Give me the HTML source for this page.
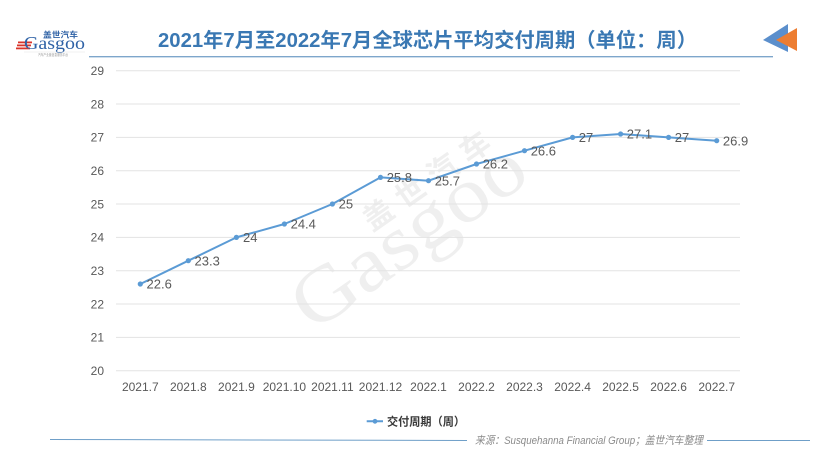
<!DOCTYPE html>
<html>
<head>
<meta charset="utf-8">
<style>
  html, body { margin:0; padding:0; background:#ffffff; }
  body { width:820px; height:461px; overflow:hidden; }
  svg { display:block; }
  .t { font-family: "Liberation Sans", "Noto Sans CJK SC", sans-serif; }
</style>
</head>
<body>
<svg width="820" height="461" viewBox="0 0 820 461" xmlns="http://www.w3.org/2000/svg">
  <rect x="0" y="0" width="820" height="461" fill="#ffffff"/>

  <!-- Logo -->
  <g>
    <text x="43" y="37.5" class="t" font-size="8" font-weight="bold" fill="#2f62a6" textLength="35" lengthAdjust="spacingAndGlyphs">盖世汽车</text>
    <rect x="18" y="41.5" width="14" height="1.8" fill="#d9342b"/>
    <rect x="17" y="44.5" width="14" height="1.8" fill="#d9342b"/>
    <rect x="16" y="47.5" width="14" height="1.8" fill="#d9342b"/>
    <text x="24" y="49" font-family="Liberation Serif, serif" font-size="18" fill="#2f62a6" textLength="61" lengthAdjust="spacingAndGlyphs">Gasgoo</text>
    <line x1="24" y1="52" x2="85" y2="52" stroke="#e4e4e4" stroke-width="0.5"/>
    <text x="38" y="56" class="t" font-size="3.5" fill="#999" textLength="30" lengthAdjust="spacingAndGlyphs">汽车产业链信息服务平台</text>
  </g>

  <!-- Title -->
  <text x="158" y="47" class="t" font-size="20" font-weight="bold" fill="#3a78b3" textLength="539" lengthAdjust="spacingAndGlyphs">2021年7月至2022年7月全球芯片平均交付周期（单位：周）</text>
  <line x1="89" y1="56.7" x2="773" y2="56.7" stroke="#7ea6cb" stroke-width="1.3"/>

  <!-- Arrow icon -->
  <polygon points="763,40 788,24 788,52" fill="#5b8fcc"/>
  <polygon points="776,40 797,28 797,51" fill="#ed7d31"/>

  <!-- Watermark -->
  <g fill="#efefef">
    <text transform="translate(313,333) rotate(-35)" font-family="Liberation Serif, serif" font-size="78" textLength="268" lengthAdjust="spacingAndGlyphs">Gasgoo</text>
    <text transform="translate(372,232) rotate(-35)" class="t" font-size="30" font-weight="bold" textLength="148" lengthAdjust="spacing">盖世汽车</text>
  </g>

  <!-- Gridlines -->
  <g stroke="#e3e3e3" stroke-width="1">
    <line x1="116" y1="70.7" x2="740" y2="70.7"/>
    <line x1="116" y1="104" x2="740" y2="104"/>
    <line x1="116" y1="137.4" x2="740" y2="137.4"/>
    <line x1="116" y1="170.7" x2="740" y2="170.7"/>
    <line x1="116" y1="204" x2="740" y2="204"/>
    <line x1="116" y1="237.4" x2="740" y2="237.4"/>
    <line x1="116" y1="270.7" x2="740" y2="270.7"/>
    <line x1="116" y1="304" x2="740" y2="304"/>
    <line x1="116" y1="337.4" x2="740" y2="337.4"/>
    <line x1="116" y1="370.7" x2="740" y2="370.7"/>
  </g>

  <!-- Y axis labels -->
  <g class="t" font-size="12" fill="#595959" text-anchor="end">
    <text x="104" y="75">29</text>
    <text x="104" y="108.3">28</text>
    <text x="104" y="141.7">27</text>
    <text x="104" y="175">26</text>
    <text x="104" y="208.3">25</text>
    <text x="104" y="241.7">24</text>
    <text x="104" y="275">23</text>
    <text x="104" y="308.3">22</text>
    <text x="104" y="341.7">21</text>
    <text x="104" y="375">20</text>
  </g>

  <!-- X axis labels -->
  <g class="t" font-size="12" fill="#595959" text-anchor="middle">
    <text x="140.3" y="391">2021.7</text>
    <text x="188.3" y="391">2021.8</text>
    <text x="236.4" y="391">2021.9</text>
    <text x="284.4" y="391">2021.10</text>
    <text x="332.4" y="391">2021.11</text>
    <text x="380.5" y="391">2021.12</text>
    <text x="428.5" y="391">2022.1</text>
    <text x="476.5" y="391">2022.2</text>
    <text x="524.5" y="391">2022.3</text>
    <text x="572.6" y="391">2022.4</text>
    <text x="620.6" y="391">2022.5</text>
    <text x="668.6" y="391">2022.6</text>
    <text x="716.7" y="391">2022.7</text>
  </g>

  <!-- Series -->
  <polyline fill="none" stroke="#5b9bd5" stroke-width="2" stroke-linejoin="round"
    points="140.3,284 188.3,260.7 236.4,237.4 284.4,224 332.4,204 380.5,177.4 428.5,180.7 476.5,164 524.5,150.7 572.6,137.4 620.6,134 668.6,137.4 716.7,140.7"/>
  <g fill="#5b9bd5">
    <circle cx="140.3" cy="284" r="2.6"/>
    <circle cx="188.3" cy="260.7" r="2.6"/>
    <circle cx="236.4" cy="237.4" r="2.6"/>
    <circle cx="284.4" cy="224" r="2.6"/>
    <circle cx="332.4" cy="204" r="2.6"/>
    <circle cx="380.5" cy="177.4" r="2.6"/>
    <circle cx="428.5" cy="180.7" r="2.6"/>
    <circle cx="476.5" cy="164" r="2.6"/>
    <circle cx="524.5" cy="150.7" r="2.6"/>
    <circle cx="572.6" cy="137.4" r="2.6"/>
    <circle cx="620.6" cy="134" r="2.6"/>
    <circle cx="668.6" cy="137.4" r="2.6"/>
    <circle cx="716.7" cy="140.7" r="2.6"/>
  </g>

  <!-- Data labels -->
  <g class="t" font-size="13" fill="#595959">
    <text x="146.5" y="288.7">22.6</text>
    <text x="194.5" y="265.4">23.3</text>
    <text x="243" y="242.1">24</text>
    <text x="290.6" y="228.7">24.4</text>
    <text x="338.6" y="208.7">25</text>
    <text x="386.7" y="182.1">25.8</text>
    <text x="434.7" y="185.4">25.7</text>
    <text x="482.7" y="168.7">26.2</text>
    <text x="530.7" y="155.4">26.6</text>
    <text x="578.8" y="142.1">27</text>
    <text x="626.8" y="138.7">27.1</text>
    <text x="674.8" y="142.1">27</text>
    <text x="722.9" y="145.4">26.9</text>
  </g>

  <!-- Legend -->
  <line x1="366.7" y1="421.3" x2="383" y2="421.3" stroke="#5b9bd5" stroke-width="2"/>
  <circle cx="375" cy="421.3" r="2.4" fill="#5b9bd5"/>
  <text x="387" y="425.5" class="t" font-size="11.5" font-weight="bold" fill="#3a3a3a" textLength="78" lengthAdjust="spacingAndGlyphs">交付周期（周）</text>

  <!-- Footer -->
  <line x1="50" y1="439.5" x2="467" y2="440.5" stroke="#6f9fc8" stroke-width="1"/>
  <text x="475" y="444" class="t" font-size="11" font-style="italic" fill="#8a8a8a" textLength="228" lengthAdjust="spacingAndGlyphs">来源：Susquehanna Financial Group；盖世汽车整理</text>
  <line x1="707" y1="440.5" x2="810" y2="440.5" stroke="#6f9fc8" stroke-width="1"/>
</svg>
</body>
</html>
